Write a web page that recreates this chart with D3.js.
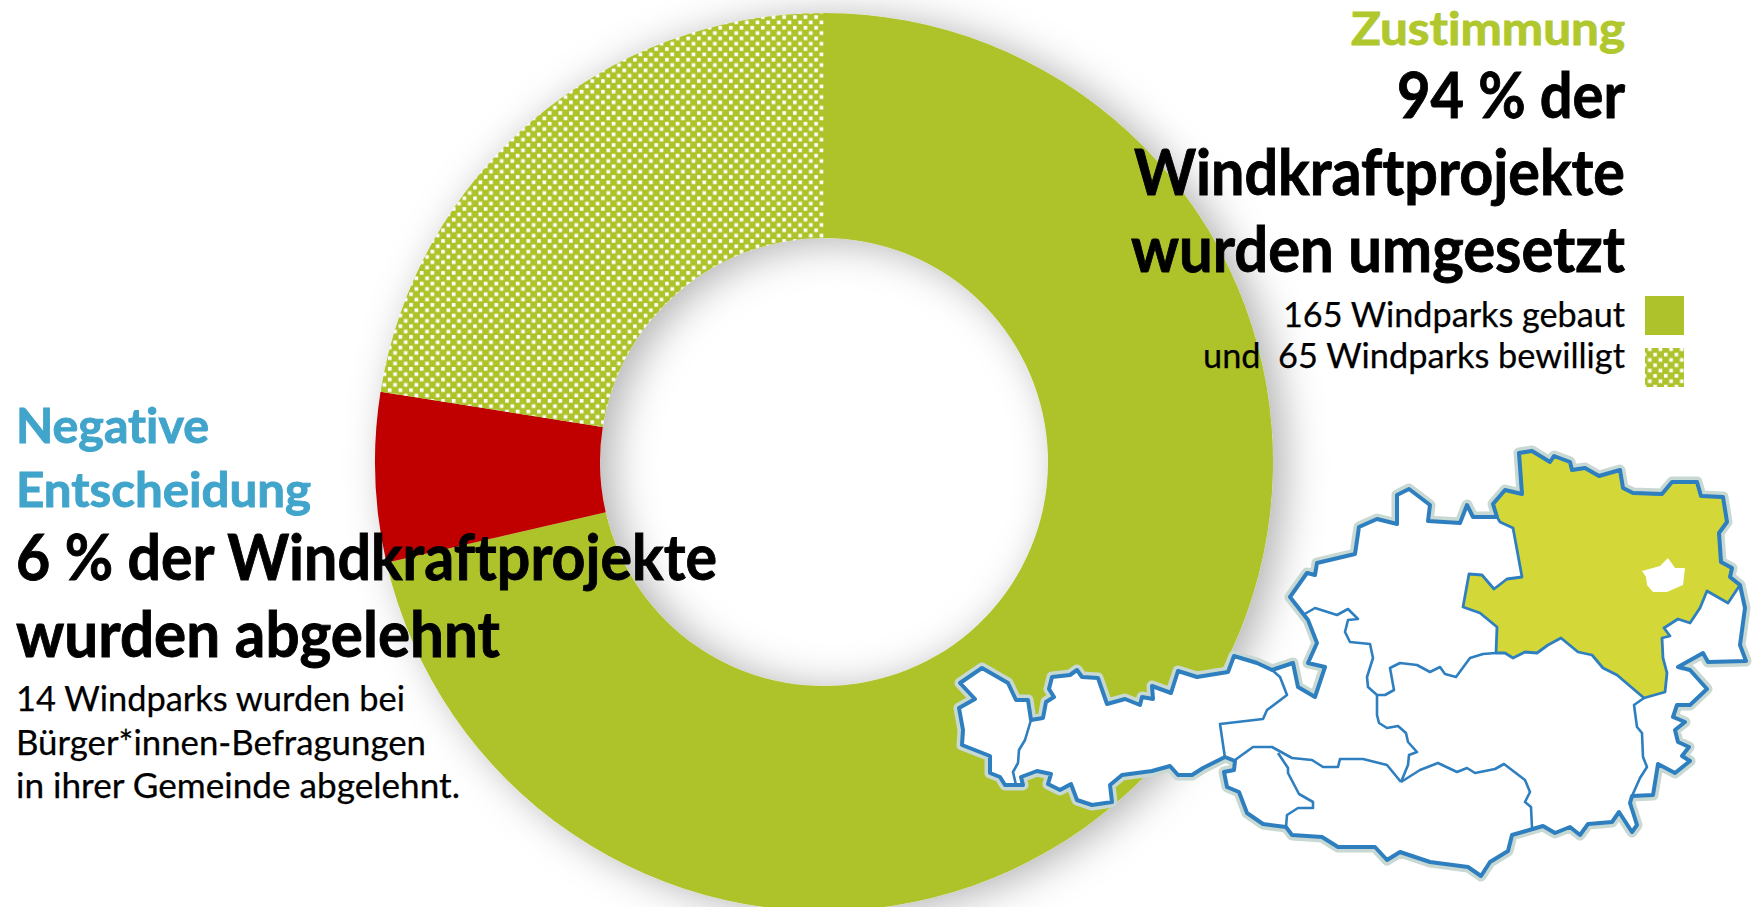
<!DOCTYPE html>
<html lang="de">
<head>
  <meta charset="UTF-8">
  <title>Windkraftprojekte</title>
  <style>
    * {
      margin: 0;
      padding: 0;
    }
    body {
      background: #fff;
      overflow: hidden;
    }
    text {
      font-family: Lato, "Open Sans", sans-serif;
      font-variant-ligatures: none;
      white-space: pre;
    }
  </style>
</head>
<body>
  <script src="https://d3js.org/d3.v7.min.js"></script>
  <script>
    const width = 1757;
    const height = 907;

    // shares of the ring in percent, clockwise from 12 o'clock
    const categories = ['gebaut', 'abgelehnt', 'bewilligt'];
    const shares = [71.4, 6.1, 22.5];
    const colors = {
      gebaut: '#aec32b',
      abgelehnt: '#c00000',
      bewilligt: 'url(#dots)',
    };

    // traced outline of Austria, page pixels
    const outline = [
      [960,683],[982,668],[1008,683],[1016,700],[1028,700],[1031,720],[1043,718],[1046,702],[1054,697],[1049,689],
      [1052,677],[1070,675],[1077,670],[1082,677],[1098,678],[1107,704],[1125,699],[1140,705],[1142,697],[1153,699],
      [1152,686],[1171,693],[1178,671],[1197,677],[1228,672],[1234,656],[1257,663],[1272,670],[1293,663],[1298,687],
      [1315,697],[1325,667],[1308,663],[1317,643],[1308,620],[1290,597],[1307,573],[1315,575],[1317,563],[1355,554],
      [1359,527],[1377,519],[1397,524],[1397,495],[1409,489],[1430,505],[1428,521],[1460,523],[1467,505],[1473,517],
      [1497,517],[1493,504],[1505,490],[1522,494],[1519,453],[1532,451],[1550,462],[1554,456],[1570,462],[1572,470],
      [1585,468],[1599,476],[1620,470],[1623,488],[1633,493],[1662,494],[1672,482],[1697,482],[1701,496],[1723,497],
      [1727,522],[1719,533],[1721,562],[1732,568],[1730,577],[1740,585],[1745,608],[1740,645],[1746,661],[1708,662],
      [1703,653],[1678,667],[1690,670],[1707,689],[1690,705],[1677,705],[1673,717],[1685,722],[1675,730],[1678,742],
      [1689,747],[1682,756],[1690,761],[1675,773],[1658,764],[1653,795],[1632,796],[1630,803],[1637,825],[1632,832],
      [1619,812],[1612,822],[1588,824],[1580,835],[1570,827],[1555,833],[1543,826],[1512,835],[1508,851],[1490,862],
      [1481,876],[1468,867],[1430,862],[1400,852],[1387,860],[1375,847],[1338,847],[1322,837],[1292,835],[1286,827],
      [1263,824],[1247,813],[1239,792],[1227,787],[1224,772],[1234,770],[1235,761],[1225,757],[1203,768],[1192,775],
      [1178,775],[1170,766],[1152,771],[1122,775],[1110,785],[1112,802],[1092,805],[1077,800],[1071,784],[1060,790],
      [1048,784],[1051,774],[1037,771],[1021,777],[1023,785],[1005,785],[1000,777],[990,773],[990,756],[962,745],
      [963,730],[959,708],[975,699],
    ];

    const lowerAustria = [
      [1497,517],[1493,504],[1505,490],[1522,494],[1519,453],[1532,451],[1550,462],[1554,456],[1570,462],[1572,470],
      [1585,468],[1599,476],[1620,470],[1623,488],[1633,493],[1662,494],[1672,482],[1697,482],[1701,496],[1723,497],
      [1727,522],[1719,533],[1721,562],[1732,568],[1730,577],[1740,585],[1728,603],[1707,591],[1700,608],[1690,623],
      [1678,619],[1664,628],[1670,636],[1662,638],[1663,658],[1667,673],[1665,692],[1644,698],[1617,675],[1603,668],
      [1592,655],[1578,652],[1561,638],[1548,645],[1537,653],[1525,652],[1513,658],[1505,653],[1496,653],[1497,627],
      [1480,613],[1463,607],[1469,574],[1482,575],[1494,589],[1507,579],[1522,577],[1513,528],[1500,522],
    ];

    const vienna = [
      [1642,571],[1660,566],[1668,558],[1675,568],[1685,568],[1683,585],[1667,592],[1653,592],[1647,585],[1646,577],
    ];

    // borders between the provinces
    const borders = [
      [[1496,653],[1483,654],[1470,658],[1456,677],[1445,674],[1440,667],[1430,672],[1417,665],[1400,663],[1390,668],
       [1394,690],[1385,695],[1377,695],[1368,687],[1367,677],[1373,658],[1370,644],[1350,642],[1345,632],[1348,620],
       [1358,619],[1348,609],[1337,615],[1315,608],[1303,615]],
      [[1377,695],[1377,715],[1379,723],[1387,728],[1398,726],[1406,733],[1408,742],[1417,752],[1409,755],[1408,765],[1401,782]],
      [[1401,782],[1387,765],[1363,759],[1340,759],[1338,767],[1323,767],[1312,760],[1292,758],[1272,747],[1253,747],[1235,760]],
      [[1278,753],[1288,768],[1288,773],[1299,794],[1313,802],[1313,808],[1298,808],[1287,815],[1286,827]],
      [[1401,782],[1420,770],[1438,763],[1457,772],[1467,768],[1475,773],[1495,769],[1504,764],[1525,780],[1530,792],
       [1525,802],[1531,807],[1532,828]],
      [[1644,698],[1634,705],[1637,727],[1642,733],[1643,757],[1647,767],[1640,778],[1632,796]],
      [[1225,758],[1220,724],[1263,719],[1267,710],[1287,695],[1280,677],[1272,670]],
      [[1031,720],[1025,740],[1019,750],[1018,763],[1013,772],[1016,785]],
    ];

    const svg = d3.select('body')
      .append('svg')
      .attr('width', width)
      .attr('height', height)

    const defs = svg.append('defs')

    const dots = defs.append('pattern')
      .attr('id', 'dots')
      .attr('patternUnits', 'userSpaceOnUse')
      .attr('width', 10.66)
      .attr('height', 10.66)
    dots.append('rect')
      .attr('width', 10.66)
      .attr('height', 10.66)
      .attr('fill', '#aec32b')
    dots.selectAll('.dot')
      .data([[1, 1], [6.33, 6.33]])
      .enter()
      .append('rect')
      .attr('x', d => d[0])
      .attr('y', d => d[1])
      .attr('width', 3.6)
      .attr('height', 3.6)
      .attr('fill', '#fff')

    const shadow = defs.append('filter')
      .attr('id', 'ring-shadow')
      .attr('x', '-20%')
      .attr('y', '-20%')
      .attr('width', '140%')
      .attr('height', '140%')
    shadow.append('feDropShadow')
      .attr('dx', 12)
      .attr('dy', 4)
      .attr('stdDeviation', 20)
      .attr('flood-color', '#000')
      .attr('flood-opacity', 0.3)

    defs.append('filter')
      .attr('id', 'soft')
      .append('feGaussianBlur')
      .attr('stdDeviation', 0.5)

    // ring
    const pie = d3.pie().sort(null).value(d => d.share)
    const arc = d3.arc().innerRadius(224).outerRadius(449)
    const slices = pie(categories.map((name, i) => ({ name, share: shares[i] })))

    svg.append('g')
      .attr('transform', 'translate(824, 462)')
      .attr('filter', 'url(#ring-shadow)')
      .selectAll('path')
      .data(slices)
      .enter()
      .append('path')
      .attr('d', arc)
      .attr('fill', d => colors[d.data.name])

    // texts
    const addText = (str, left, right, baseline, size, weight, fill) => {
      svg.append('text')
        .attr('x', left)
        .attr('y', baseline)
        .attr('font-size', size)
        .attr('font-weight', weight)
        .attr('fill', fill)
        .attr('stroke', fill)
        .attr('stroke-width', weight === 700 ? 0.9 : 0.25)
        .attr('textLength', right - left)
        .attr('lengthAdjust', 'spacingAndGlyphs')
        .text(str)
    }

    addText('Zustimmung', 1351, 1625, 45, 45, 700, '#b0c82e')
    addText('94 % der', 1397, 1625, 118, 64, 700, '#000')
    addText('Windkraftprojekte', 1134, 1625, 195, 64, 700, '#000')
    addText('wurden umgesetzt', 1131, 1625, 272, 64, 700, '#000')
    addText('165 Windparks gebaut', 1283, 1625, 327, 34, 400, '#000')
    addText('und  65 Windparks bewilligt', 1203, 1625, 368, 34, 400, '#000')

    addText('Negative', 16, 209, 443, 48, 700, '#40a4cb')
    addText('Entscheidung', 16, 311, 507, 48, 700, '#40a4cb')
    addText('6 % der Windkraftprojekte', 16, 717, 580, 64, 700, '#000')
    addText('wurden abgelehnt', 16, 500, 657, 64, 700, '#000')
    addText('14 Windparks wurden bei', 16, 405, 711, 34, 400, '#000')
    addText('Bürger*innen-Befragungen', 16, 426, 755, 34, 400, '#000')
    addText('in ihrer Gemeinde abgelehnt.', 16, 460, 798, 34, 400, '#000')

    // legend
    svg.selectAll('.swatch')
      .data(['gebaut', 'bewilligt'])
      .enter()
      .append('rect')
      .attr('class', 'swatch')
      .attr('x', 1645)
      .attr('y', (d, i) => (i === 0 ? 296 : 348))
      .attr('width', 39)
      .attr('height', 39)
      .attr('fill', d => colors[d])

    // map of Austria
    const line = d3.line()
    const map = svg.append('g').attr('filter', 'url(#soft)')

    map.append('path')
      .attr('d', line(outline) + 'Z')
      .attr('fill', 'none')
      .attr('stroke', '#c8d8d2')
      .attr('stroke-width', 11)
      .attr('stroke-linejoin', 'round')
    map.append('path')
      .attr('d', line(outline) + 'Z')
      .attr('fill', '#fff')
    map.append('path')
      .attr('d', line(lowerAustria) + 'Z')
      .attr('fill', '#d3d739')
    map.append('path')
      .attr('d', line(vienna) + 'Z')
      .attr('fill', '#fff')
    map.selectAll('.border')
      .data(borders)
      .enter()
      .append('path')
      .attr('class', 'border')
      .attr('d', line)
      .attr('fill', 'none')
      .attr('stroke', '#2f7fbf')
      .attr('stroke-width', 2.6)
      .attr('stroke-linejoin', 'round')
    map.append('path')
      .attr('d', line(lowerAustria) + 'Z')
      .attr('fill', 'none')
      .attr('stroke', '#2f7fbf')
      .attr('stroke-width', 2.8)
      .attr('stroke-linejoin', 'round')
    map.append('path')
      .attr('d', line(outline) + 'Z')
      .attr('fill', 'none')
      .attr('stroke', '#2f7fbf')
      .attr('stroke-width', 4)
      .attr('stroke-linejoin', 'round')
  </script>
</body>
</html>
